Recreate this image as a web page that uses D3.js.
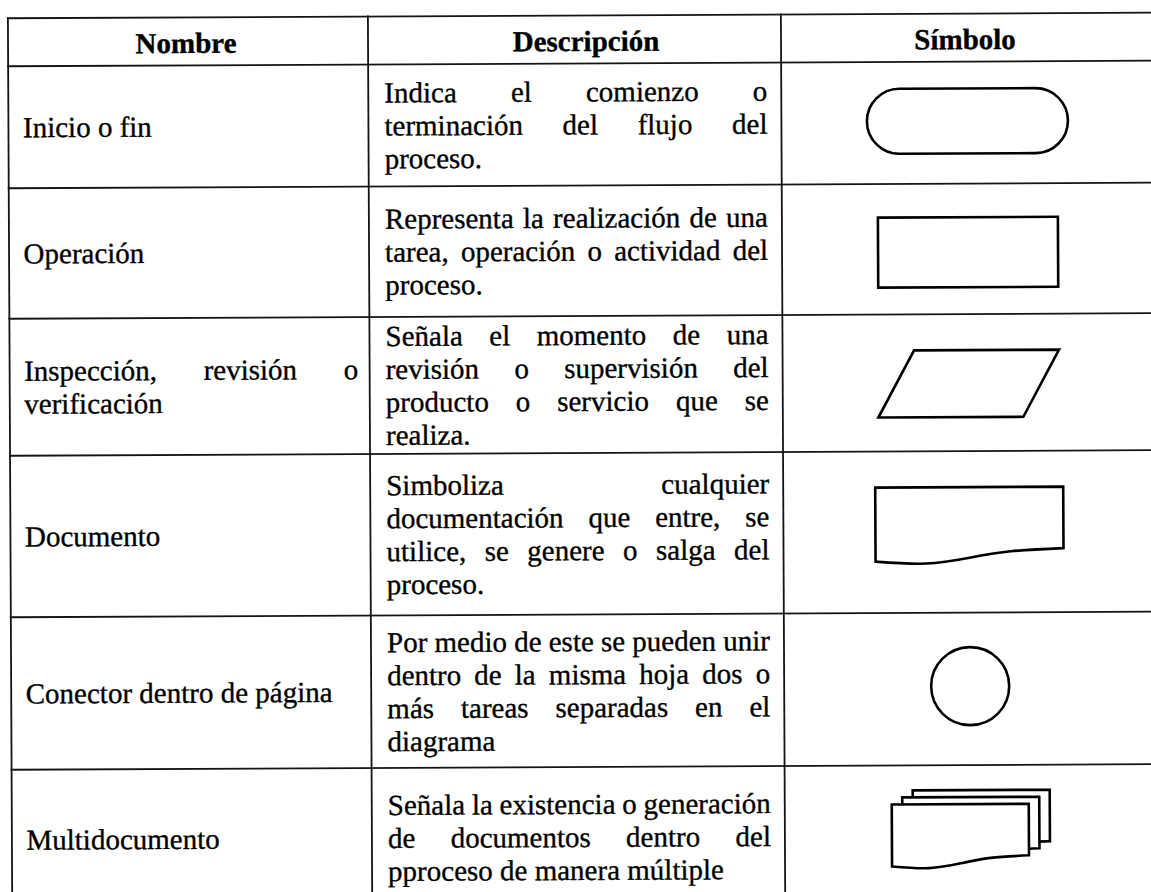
<!DOCTYPE html>
<html><head><meta charset="utf-8">
<script src="https://cdn.jsdelivr.net/npm/d3@7"></script>
<style>html,body{margin:0;padding:0;background:#fff;} svg{display:block}
svg text{font-family:"Liberation Serif","Tinos","Times New Roman","DejaVu Serif",serif;}</style>
</head><body><svg id="c" width="1151" height="892"></svg>
<script>
// ---------- data ----------
const headers = ["Nombre", "Descripción", "Símbolo"];
const names = [
  ["Inicio o fin"],
  ["Operación"],
  ["Inspección, revisión o", "verificación"],
  ["Documento"],
  ["Conector dentro de página"],
  ["Multidocumento"]
];
const descriptions = [
  ["Indica el comienzo o", "terminación del flujo del", "proceso."],
  ["Representa la realización de una", "tarea, operación o actividad del", "proceso."],
  ["Señala el momento de una", "revisión o supervisión del", "producto o servicio que se", "realiza."],
  ["Simboliza cualquier", "documentación que entre, se", "utilice, se genere o salga del", "proceso."],
  ["Por medio de este se pueden unir", "dentro de la misma hoja dos o", "más tareas separadas en el", "diagrama"],
  ["Señala la existencia o generación", "de documentos dentro del", "pproceso de manera múltiple"]
];
const symbols = ["terminator", "process", "data", "document", "connector", "multidocument"];

// ---------- layout ----------
const rowHeights = [48, 122, 130.5, 137, 161.5, 152.5, 140];
const tableTop = 15.5;
const colEdges = [10, 370, 783];
const headerCenters = [188, 588, 967];
const symbolCenterX = 969;
const fontSize = 29, lineH = 33;
const symbolDy = {terminator: -1.6, process: 3.4, data: 1, document: -7.7, connector: -2.7, multidocument: -7};

const rowEdges = [tableTop, ...d3.cumsum(rowHeights).map(v => v + tableTop)];
const yRow = i => rowEdges[i + 1];
const yRowB = i => rowEdges[i + 2];
const rowCenter = i => (yRow(i) + yRowB(i)) / 2;

const svg = d3.select("#c");
const g = svg.append("g").attr("transform", "rotate(-0.28,575,446)");

// ---------- grid ----------
const grid = g.append("g").attr("stroke", "#141414").attr("stroke-width", 1.8).attr("fill", "none");
const bottomY = rowEdges[rowEdges.length - 1];
rowEdges.forEach(y => grid.append("line").attr("x1", colEdges[0] - 1).attr("x2", 1160).attr("y1", y).attr("y2", y));
colEdges.forEach(x => grid.append("line").attr("x1", x).attr("x2", x).attr("y1", tableTop - 1).attr("y2", bottomY));

// ---------- text helpers ----------
const txt = g.append("g").attr("font-size", fontSize).attr("fill", "#000")
  .attr("stroke", "#000").attr("stroke-width", 0.35);
const spaceW = fontSize * 0.25;

function drawLine(words, x0, width, baseline, justify) {
  const items = words.map(w => txt.append("text").attr("y", baseline).text(w));
  const widths = items.map(t => t.node().getComputedTextLength());
  const total = d3.sum(widths);
  const gap = (justify && words.length > 1) ? (width - total) / (words.length - 1) : spaceW;
  let x = x0;
  items.forEach((t, i) => { t.attr("x", x); x += widths[i] + gap; });
}
function drawPara(lines, x0, width, cy) {
  const first = cy - (lines.length - 1) * lineH / 2 + 10;
  lines.forEach((ln, i) => {
    drawLine(ln.split(" "), x0, width, first + i * lineH, i < lines.length - 1);
  });
}

headers.forEach((h, i) => {
  txt.append("text").attr("x", headerCenters[i]).attr("y", 51).attr("text-anchor", "middle")
    .attr("font-weight", "bold").text(h);
});

names.forEach((ln, i) => drawPara(ln, 24.5, 334, rowCenter(i)));
descriptions.forEach((ln, i) => drawPara(ln, 386, 383, rowCenter(i)));

// ---------- symbols ----------
const sym = g.append("g").attr("stroke", "#000").attr("stroke-width", 2.6).attr("fill", "#fff")
  .attr("stroke-linejoin", "miter");

function docPath(x, y, w, h) {
  const pts = [[1, 0.83], [0.72, 0.87], [0.5, 0.955], [0.27, 1.03], [0, 1.0]]
    .map(p => [x + w * p[0], y + h * p[1]]);
  const curve = d3.line().curve(d3.curveNatural)(pts).replace(/^M[^C]*/, "");
  return `M${x},${y + h}V${y}H${x + w}V${y + 0.83 * h}` + curve + "Z";
}

symbols.forEach((s, i) => {
  const cx = symbolCenterX, cy = rowCenter(i) + symbolDy[s];
  if (s === "terminator") {
    const w = 201, h = 65;
    sym.append("rect").attr("x", cx - w / 2).attr("y", cy - h / 2).attr("width", w).attr("height", h)
      .attr("rx", h / 2).attr("ry", h / 2);
  } else if (s === "process") {
    const w = 180, h = 70;
    sym.append("rect").attr("x", cx - w / 2).attr("y", cy - h / 2).attr("width", w).attr("height", h);
  } else if (s === "data") {
    const w = 145, sk = 36, h = 67, tw = w + sk;
    const l = cx - tw / 2, t = cy - h / 2;
    sym.append("path").attr("d", `M${l + sk},${t}H${l + tw}L${l + w},${t + h}H${l}Z`);
  } else if (s === "document") {
    const w = 188, h = 74;
    sym.append("path").attr("d", docPath(cx - w / 2, cy - h / 2, w, h));
  } else if (s === "connector") {
    sym.append("circle").attr("cx", cx).attr("cy", cy).attr("r", 39);
  } else if (s === "multidocument") {
    const w = 137, h = 62, dx = 10.5, dy = -7;
    const bw = w + 2 * dx, bh = h - 2 * dy;
    const x0 = cx - bw / 2, y0 = cy - bh / 2 - 2 * dy;
    [2, 1, 0].forEach(k => {
      sym.append("path").attr("d", docPath(x0 + k * dx, y0 + k * dy, w, h));
    });
  }
});
</script>
</body></html>
